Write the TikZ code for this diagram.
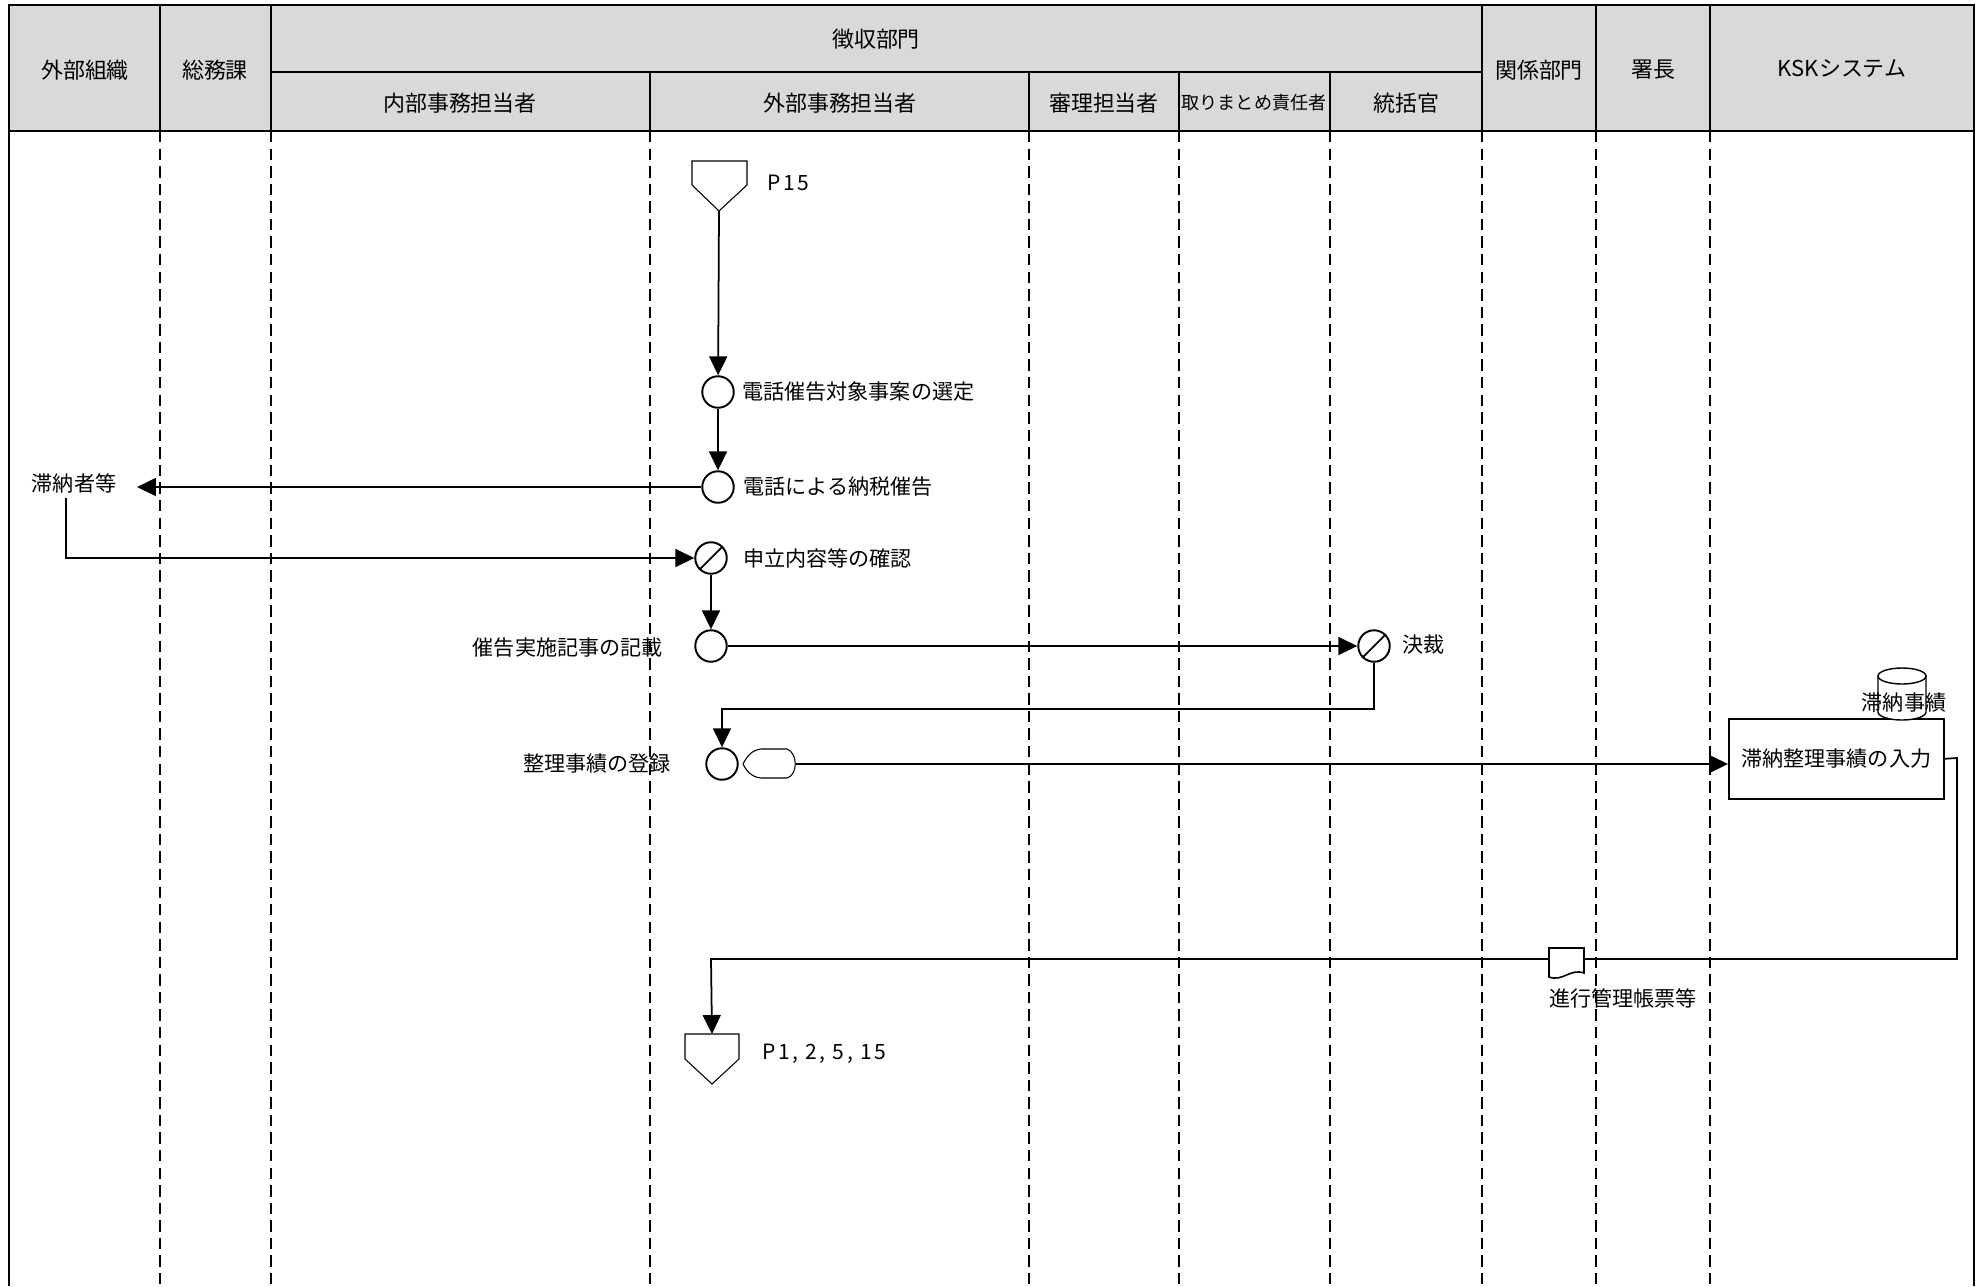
\documentclass[tikz,border=0pt]{standalone}
\usepackage{fontspec}
\setmainfont{Noto Sans CJK JP}
\usepackage{tikz}
\usetikzlibrary{arrows.meta,calc}
\definecolor{head}{HTML}{D9D9D9}
\definecolor{ink}{HTML}{000000}
\tikzset{
  cell/.style={line width=1.2pt, draw=ink, fill=head},
  lane/.style={line width=0.8pt, draw=ink, dash pattern=on 6.5pt off 3.5pt},
  link/.style={line width=1pt, draw=ink},
  flow/.style={link, -{Triangle[length=0.38cm,width=0.36cm]}},
  thinln/.style={line width=0.6pt, draw=ink, fill=white},
  proc/.style={circle, draw=ink, line width=1.1pt, fill=white, minimum size=0.63cm, inner sep=0pt},
  lab/.style={text=ink, font=\fontsize{12}{14}\selectfont, inner sep=0pt},
  hlab/.style={text=ink, font=\fontsize{12.5}{14}\selectfont, inner sep=0pt},
  pref/.style={lab, font=\fontsize{12}{14}\selectfont\addfontfeature{LetterSpace=12}},
}

\begin{document}
\begin{tikzpicture}[x=0.02cm, y=0.02cm]
  \useasboundingbox (0,0) rectangle (1980,-1286);

  % header
  \draw[cell] (9,-5) rectangle (160,-131);
  \draw[cell] (160,-5) rectangle (271,-131);
  \draw[cell] (271,-5) rectangle (1482,-72);
  \draw[cell] (271,-72) rectangle (650,-131);
  \draw[cell] (650,-72) rectangle (1029,-131);
  \draw[cell] (1029,-72) rectangle (1179,-131);
  \draw[cell] (1179,-72) rectangle (1330,-131);
  \draw[cell] (1330,-72) rectangle (1482,-131);
  \draw[cell] (1482,-5) rectangle (1596,-131);
  \draw[cell] (1596,-5) rectangle (1710,-131);
  \draw[cell] (1710,-5) rectangle (1974,-131);

  \node[hlab] (hGaibu) at (85,-70) {外部組織};
  \node[hlab] (hSomu) at (215,-70) {総務課};
  \node[hlab] (hChoshu) at (876,-39) {徴収部門};
  \node[hlab] (hNaibu) at (460,-103) {内部事務担当者};
  \node[hlab] (hGaimu) at (840,-103) {外部事務担当者};
  \node[hlab] (hShinri) at (1104,-103) {審理担当者};
  \node[hlab, font=\fontsize{10.3}{12}\selectfont] (hTorimatome) at (1254,-103) {取りまとめ責任者};
  \node[hlab] (hTokatsu) at (1406,-103) {統括官};
  \node[hlab] (hKankei) at (1539,-70) {関係部門};
  \node[hlab] (hShocho) at (1653,-70) {署長};
  \node[hlab] (hKsk) at (1842,-69) {KSKシステム};

  % lanes
  \draw[link] (9,-5) -- (9,-1286);
  \draw[link] (1974,-5) -- (1974,-1286);
  \foreach \x in {160,271,650,1029,1179,1330,1482,1596,1710}
    \draw[lane] (\x,-131) -- (\x,-1286);

  % off-page connectors
  \draw[thinln] (692,-161) -- (747,-161) -- (747,-185) -- (719,-211) -- (692,-185) -- cycle;
  \coordinate (startTip) at (719,-211);
  \node[pref, anchor=west] (p15) at (767,-183) {P15};

  \draw[thinln] (685,-1034) -- (739,-1034) -- (739,-1059) -- (712,-1084) -- (685,-1059) -- cycle;
  \coordinate (endTop) at (712,-1034);
  \node[pref, anchor=west] (pEnd) at (762,-1054) {P1, 2, 5, 15};

  % steps
  \node[proc] (A) at (718,-392) {};
  \node[proc] (B) at (718,-487) {};
  \node[proc] (C) at (711,-558) {};
  \node[proc] (D) at (711,-646) {};
  \node[proc] (E) at (1374,-646) {};
  \node[proc] (F) at (722,-764) {};
  \draw[link] (C.225) -- (C.45);
  \draw[link] (E.225) -- (E.45);

  \node[lab, anchor=west] (lSentei) at (742,-392) {電話催告対象事案の選定};
  \node[lab, anchor=west] (lSaikoku) at (743,-487) {電話による納税催告};
  \node[lab, anchor=west] (lKakunin) at (743,-558) {申立内容等の確認};
  \node[lab, anchor=east] (lKisai) at (663,-648) {催告実施記事の記載};
  \node[lab, anchor=west] (lKessai) at (1402,-644) {決裁};
  \node[lab, anchor=east] (lToroku) at (671,-764) {整理事績の登録};

  \node[lab] (taino) at (74,-484) {滞納者等};
  \coordinate (tainoIn) at (137,-487);
  \coordinate (tainoOut) at (66,-498);

  % display symbol
  \draw[thinln] (743,-764) .. controls (747,-756) and (752,-750) .. (761,-749) -- (787,-749)
    .. controls (798,-753) and (798,-775) .. (787,-778) -- (761,-778)
    .. controls (752,-777) and (747,-772) .. (743,-764);
  \coordinate (dispR) at (796,-764);

  % KSK input
  \node[draw=ink, line width=0.9pt, fill=white, minimum width=4.3cm, minimum height=1.6cm,
        anchor=north west, lab] (inp) at (1728,-718) {滞納整理事績の入力};
  \draw[thinln, line width=0.8pt] (1878,-676) -- (1878,-712)
    arc[start angle=180, end angle=360, x radius=0.48cm, y radius=0.16cm] -- (1926,-676) -- cycle;
  \draw[thinln, line width=0.8pt] (1902,-676) ellipse [x radius=0.48cm, y radius=0.16cm];
  \node[lab] (lJiseki) at (1904,-703) {滞納事績};

  % flows
  \draw[flow] (startTip) -- (A);
  \draw[flow] (A) -- (B);
  \draw[flow] (B) -- (tainoIn);
  \draw[flow] (tainoOut) |- (C);
  \draw[flow] (C) -- (D);
  \draw[flow] (D) -- (E);
  \draw[flow] (E.south) -- (1374,-709) -| (F.north);
  \draw[flow] (dispR) -- (dispR -| inp.west);
  \draw[flow] (inp.east) -- (1957,-758) |- (711,-959) -- (endTop);

  % report
  \draw[thinln, line width=0.9pt] (1549,-948) -- (1584,-948) -- (1584,-973)
    .. controls (1570,-968) and (1563,-982) .. (1549,-977) -- cycle;
  \node[lab, anchor=west] (lChohyo) at (1549,-998) {進行管理帳票等};
\end{tikzpicture}
\end{document}
